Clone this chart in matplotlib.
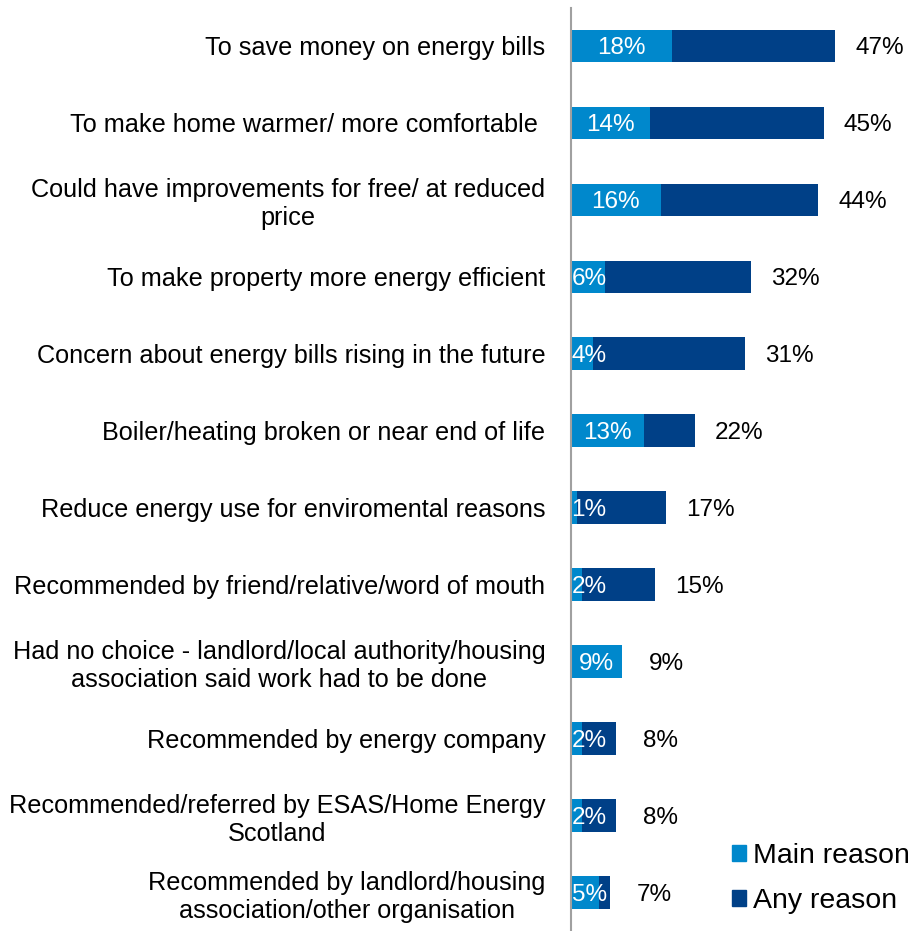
import matplotlib.pyplot as plt
from matplotlib.patches import Patch

plt.rcParams['font.family'] = ['Liberation Sans', 'DejaVu Sans']

reasons = [
    "To save money on energy bills",
    "To make home warmer/ more comfortable ",
    "Could have improvements for free/ at reduced\nprice",
    "To make property more energy efficient",
    "Concern about energy bills rising in the future",
    "Boiler/heating broken or near end of life",
    "Reduce energy use for enviromental reasons",
    "Recommended by friend/relative/word of mouth",
    "Had no choice - landlord/local authority/housing\nassociation said work had to be done",
    "Recommended by energy company",
    "Recommended/referred by ESAS/Home Energy\nScotland",
    "Recommended by landlord/housing\nassociation/other organisation",
]
main_reason = [18, 14, 16, 6, 4, 13, 1, 2, 9, 2, 2, 5]
any_reason = [47, 45, 44, 32, 31, 22, 17, 15, 9, 8, 8, 7]

main_col = '#0088CC'
any_col = '#004087'

fig = plt.figure(figsize=(9.13, 9.31), dpi=100)
ax = fig.add_axes([0.6254, 0.0, 0.3746, 0.9914])

y = list(range(len(reasons)))
ax.barh(y, any_reason, height=0.42, color=any_col)
ax.barh(y, main_reason, height=0.42, color=main_col)

for i, (m, a) in enumerate(zip(main_reason, any_reason)):
    # narrow bars: pin the label to the axis instead of centring it
    if m < 6.5:
        ax.text(0.1, i, f"{m}%", ha='left', va='center_baseline', color='white', fontsize=17.5)
    else:
        ax.text(m / 2, i, f"{m}%", ha='center', va='center_baseline', color='white', fontsize=17.5)
    ax.annotate(f"{a}%", (a, i), xytext=(32, 0), textcoords='offset points',
                ha='center', va='center_baseline', fontsize=17.5, color='black')

ax.set_xlim(0, 60.9)
ax.set_ylim(11.5, -0.49)
ax.set_yticks(y)
ax.set_yticklabels(reasons, fontsize=18.2, ha='right', multialignment='center')
ax.tick_params(axis='y', length=0, pad=18.5)
ax.set_xticks([])

for s in ['top', 'right', 'bottom']:
    ax.spines[s].set_visible(False)
ax.spines['left'].set_color('#A0A0A0')
ax.spines['left'].set_linewidth(1.5)

handles = [Patch(color=main_col, label='Main reason'), Patch(color=any_col, label='Any reason')]
fig.legend(handles=handles, loc='lower right', bbox_to_anchor=(1.025, -0.009), frameon=False,
           fontsize=20.5, handlelength=0.5, handleheight=0.5, handletextpad=0.25,
           labelspacing=0.66)

fig.savefig('out.png', dpi=100)
